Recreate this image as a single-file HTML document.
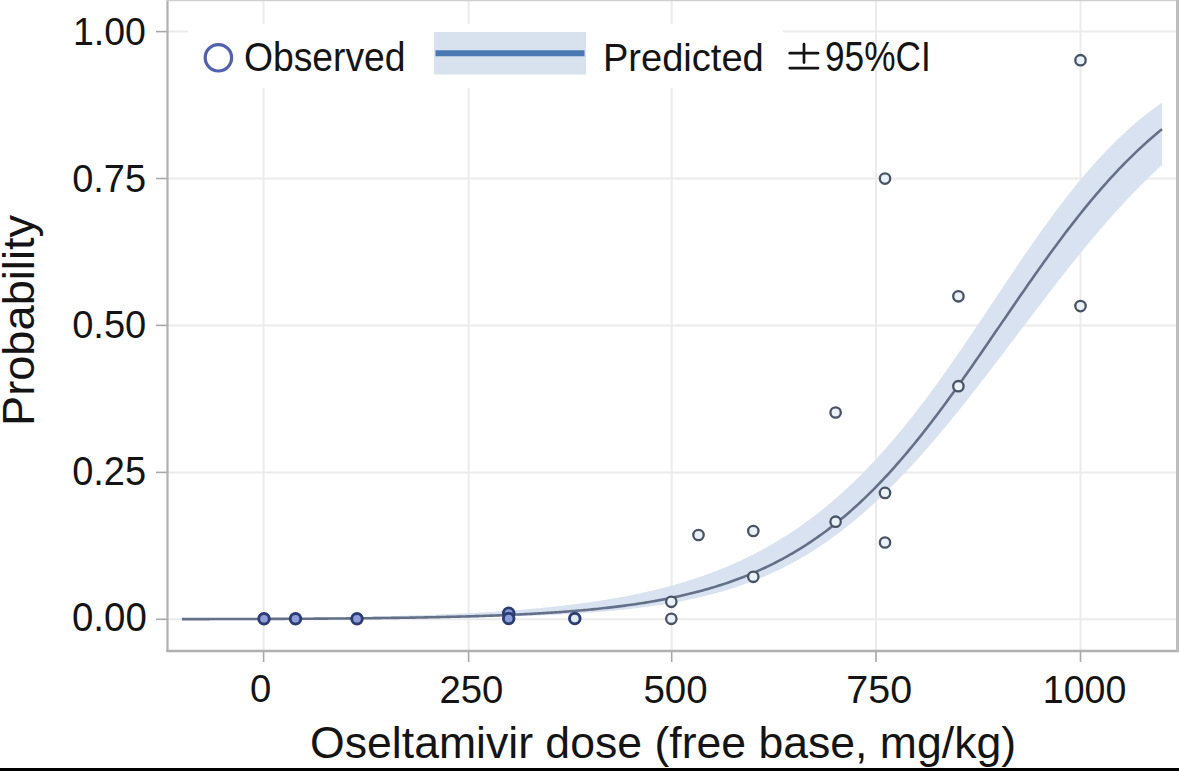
<!DOCTYPE html>
<html><head><meta charset="utf-8"><style>
html,body{margin:0;padding:0;background:#fff;width:1179px;height:771px;overflow:hidden}
svg{display:block}
text{font-family:"Liberation Sans",sans-serif;fill:#141414}
</style></head><body>
<svg width="1179" height="771" viewBox="0 0 1179 771">
<rect width="1179" height="771" fill="#fff"/>
<g stroke="#ebebeb" stroke-width="2">
<line x1="167" x2="1177" y1="31.6" y2="31.6"/>
<line x1="167" x2="1177" y1="178.5" y2="178.5"/>
<line x1="167" x2="1177" y1="325.4" y2="325.4"/>
<line x1="167" x2="1177" y1="472.4" y2="472.4"/>
<line x1="167" x2="1177" y1="619.3" y2="619.3"/>
<line y1="0" y2="651" x1="263.6" x2="263.6"/>
<line y1="0" y2="651" x1="468.6" x2="468.6"/>
<line y1="0" y2="651" x1="671.7" x2="671.7"/>
<line y1="0" y2="651" x1="876.0" x2="876.0"/>
<line y1="0" y2="651" x1="1080.5" x2="1080.5"/>
</g>
<rect x="188" y="24" width="595" height="64" fill="#fff"/>
<g stroke="#a8a8a8" stroke-width="1.6">
<line x1="156" x2="167" y1="31.6" y2="31.6"/>
<line x1="156" x2="167" y1="178.5" y2="178.5"/>
<line x1="156" x2="167" y1="325.4" y2="325.4"/>
<line x1="156" x2="167" y1="472.4" y2="472.4"/>
<line x1="156" x2="167" y1="619.3" y2="619.3"/>
<line y1="651" y2="662" x1="263.6" x2="263.6"/>
<line y1="651" y2="662" x1="468.6" x2="468.6"/>
<line y1="651" y2="662" x1="671.7" x2="671.7"/>
<line y1="651" y2="662" x1="876.0" x2="876.0"/>
<line y1="651" y2="662" x1="1080.5" x2="1080.5"/>
</g>
<path d="M181.92,618.77 L183.97,618.76 L186.01,618.75 L188.05,618.74 L190.09,618.73 L192.13,618.72 L194.18,618.71 L196.22,618.70 L198.26,618.69 L200.30,618.68 L202.34,618.67 L204.38,618.65 L206.43,618.64 L208.47,618.63 L210.51,618.62 L212.55,618.61 L214.59,618.60 L216.64,618.58 L218.68,618.57 L220.72,618.56 L222.76,618.54 L224.80,618.53 L226.85,618.52 L228.89,618.50 L230.93,618.49 L232.97,618.48 L235.01,618.46 L237.06,618.45 L239.10,618.43 L241.14,618.42 L243.18,618.40 L245.22,618.38 L247.26,618.37 L249.31,618.35 L251.35,618.34 L253.39,618.32 L255.43,618.30 L257.47,618.28 L259.52,618.27 L261.56,618.25 L263.60,618.23 L265.64,618.21 L267.68,618.19 L269.73,618.17 L271.77,618.15 L273.81,618.13 L275.85,618.11 L277.89,618.09 L279.94,618.07 L281.98,618.05 L284.02,618.03 L286.06,618.00 L288.10,617.98 L290.14,617.96 L292.19,617.93 L294.23,617.91 L296.27,617.89 L298.31,617.86 L300.35,617.83 L302.40,617.81 L304.44,617.78 L306.48,617.76 L308.52,617.73 L310.56,617.70 L312.61,617.67 L314.65,617.64 L316.69,617.62 L318.73,617.59 L320.77,617.56 L322.82,617.53 L324.86,617.49 L326.90,617.46 L328.94,617.43 L330.98,617.40 L333.02,617.36 L335.07,617.33 L337.11,617.30 L339.15,617.26 L341.19,617.22 L343.23,617.19 L345.28,617.15 L347.32,617.11 L349.36,617.07 L351.40,617.04 L353.44,617.00 L355.49,616.96 L357.53,616.91 L359.57,616.87 L361.61,616.83 L363.65,616.79 L365.70,616.74 L367.74,616.70 L369.78,616.65 L371.82,616.61 L373.86,616.56 L375.90,616.51 L377.95,616.46 L379.99,616.41 L382.03,616.36 L384.07,616.31 L386.11,616.26 L388.16,616.20 L390.20,616.15 L392.24,616.09 L394.28,616.04 L396.32,615.98 L398.37,615.92 L400.41,615.86 L402.45,615.80 L404.49,615.74 L406.53,615.68 L408.57,615.61 L410.62,615.55 L412.66,615.48 L414.70,615.42 L416.74,615.35 L418.78,615.28 L420.83,615.21 L422.87,615.14 L424.91,615.06 L426.95,614.99 L428.99,614.91 L431.04,614.84 L433.08,614.76 L435.12,614.68 L437.16,614.60 L439.20,614.52 L441.25,614.43 L443.29,614.35 L445.33,614.26 L447.37,614.17 L449.41,614.08 L451.45,613.99 L453.50,613.90 L455.54,613.80 L457.58,613.71 L459.62,613.61 L461.66,613.51 L463.71,613.41 L465.75,613.31 L467.79,613.20 L469.83,613.09 L471.87,612.99 L473.92,612.88 L475.96,612.76 L478.00,612.65 L480.04,612.53 L482.08,612.41 L484.13,612.29 L486.17,612.17 L488.21,612.05 L490.25,611.92 L492.29,611.79 L494.33,611.66 L496.38,611.53 L498.42,611.39 L500.46,611.25 L502.50,611.11 L504.54,610.97 L506.59,610.83 L508.63,610.68 L510.67,610.53 L512.71,610.37 L514.75,610.22 L516.80,610.06 L518.84,609.90 L520.88,609.74 L522.92,609.57 L524.96,609.40 L527.01,609.23 L529.05,609.05 L531.09,608.87 L533.13,608.69 L535.17,608.51 L537.21,608.32 L539.26,608.13 L541.30,607.94 L543.34,607.74 L545.38,607.54 L547.42,607.33 L549.47,607.13 L551.51,606.91 L553.55,606.70 L555.59,606.48 L557.63,606.26 L559.68,606.03 L561.72,605.80 L563.76,605.57 L565.80,605.33 L567.84,605.09 L569.88,604.84 L571.93,604.59 L573.97,604.34 L576.01,604.08 L578.05,603.82 L580.09,603.55 L582.14,603.28 L584.18,603.00 L586.22,602.72 L588.26,602.43 L590.30,602.14 L592.35,601.84 L594.39,601.54 L596.43,601.24 L598.47,600.93 L600.51,600.61 L602.56,600.29 L604.60,599.96 L606.64,599.63 L608.68,599.29 L610.72,598.95 L612.76,598.60 L614.81,598.24 L616.85,597.88 L618.89,597.51 L620.93,597.14 L622.97,596.76 L625.02,596.38 L627.06,595.98 L629.10,595.58 L631.14,595.18 L633.18,594.77 L635.23,594.35 L637.27,593.92 L639.31,593.49 L641.35,593.05 L643.39,592.60 L645.44,592.15 L647.48,591.69 L649.52,591.22 L651.56,590.74 L653.60,590.25 L655.64,589.76 L657.69,589.26 L659.73,588.75 L661.77,588.24 L663.81,587.71 L665.85,587.18 L667.90,586.63 L669.94,586.08 L671.98,585.52 L674.02,584.95 L676.06,584.37 L678.11,583.79 L680.15,583.19 L682.19,582.58 L684.23,581.97 L686.27,581.34 L688.32,580.70 L690.36,580.06 L692.40,579.40 L694.44,578.73 L696.48,578.06 L698.52,577.37 L700.57,576.67 L702.61,575.96 L704.65,575.24 L706.69,574.51 L708.73,573.77 L710.78,573.01 L712.82,572.24 L714.86,571.47 L716.90,570.68 L718.94,569.87 L720.99,569.06 L723.03,568.23 L725.07,567.39 L727.11,566.54 L729.15,565.68 L731.20,564.80 L733.24,563.91 L735.28,563.00 L737.32,562.08 L739.36,561.15 L741.40,560.20 L743.45,559.24 L745.49,558.27 L747.53,557.28 L749.57,556.28 L751.61,555.26 L753.66,554.22 L755.70,553.18 L757.74,552.11 L759.78,551.03 L761.82,549.94 L763.87,548.83 L765.91,547.70 L767.95,546.56 L769.99,545.40 L772.03,544.23 L774.08,543.04 L776.12,541.83 L778.16,540.60 L780.20,539.36 L782.24,538.10 L784.28,536.82 L786.33,535.53 L788.37,534.22 L790.41,532.89 L792.45,531.54 L794.49,530.17 L796.54,528.79 L798.58,527.39 L800.62,525.96 L802.66,524.52 L804.70,523.06 L806.75,521.58 L808.79,520.09 L810.83,518.57 L812.87,517.03 L814.91,515.47 L816.95,513.90 L819.00,512.30 L821.04,510.68 L823.08,509.04 L825.12,507.39 L827.16,505.71 L829.21,504.01 L831.25,502.29 L833.29,500.55 L835.33,498.78 L837.37,497.00 L839.42,495.20 L841.46,493.37 L843.50,491.52 L845.54,489.65 L847.58,487.76 L849.63,485.85 L851.67,483.92 L853.71,481.96 L855.75,479.98 L857.79,477.98 L859.83,475.96 L861.88,473.92 L863.92,471.85 L865.96,469.76 L868.00,467.65 L870.04,465.52 L872.09,463.37 L874.13,461.19 L876.17,458.99 L878.21,456.77 L880.25,454.53 L882.30,452.26 L884.34,449.97 L886.38,447.66 L888.42,445.33 L890.46,442.98 L892.51,440.60 L894.55,438.20 L896.59,435.78 L898.63,433.34 L900.67,430.88 L902.71,428.40 L904.76,425.89 L906.80,423.37 L908.84,420.82 L910.88,418.26 L912.92,415.67 L914.97,413.06 L917.01,410.44 L919.05,407.79 L921.09,405.12 L923.13,402.44 L925.18,399.73 L927.22,397.01 L929.26,394.27 L931.30,391.51 L933.34,388.73 L935.39,385.94 L937.43,383.13 L939.47,380.30 L941.51,377.46 L943.55,374.60 L945.59,371.73 L947.64,368.84 L949.68,365.94 L951.72,363.02 L953.76,360.09 L955.80,357.15 L957.85,354.19 L959.89,351.23 L961.93,348.25 L963.97,345.26 L966.01,342.27 L968.06,339.26 L970.10,336.24 L972.14,333.22 L974.18,330.19 L976.22,327.15 L978.27,324.11 L980.31,321.06 L982.35,318.01 L984.39,314.95 L986.43,311.89 L988.47,308.83 L990.52,305.77 L992.56,302.70 L994.60,299.64 L996.64,296.57 L998.68,293.51 L1000.73,290.44 L1002.77,287.38 L1004.81,284.33 L1006.85,281.28 L1008.89,278.23 L1010.94,275.19 L1012.98,272.15 L1015.02,269.12 L1017.06,266.10 L1019.10,263.09 L1021.14,260.09 L1023.19,257.10 L1025.23,254.11 L1027.27,251.14 L1029.31,248.18 L1031.35,245.24 L1033.40,242.31 L1035.44,239.39 L1037.48,236.49 L1039.52,233.60 L1041.56,230.73 L1043.61,227.87 L1045.65,225.03 L1047.69,222.21 L1049.73,219.41 L1051.77,216.62 L1053.82,213.86 L1055.86,211.12 L1057.90,208.39 L1059.94,205.69 L1061.98,203.01 L1064.02,200.35 L1066.07,197.71 L1068.11,195.10 L1070.15,192.50 L1072.19,189.94 L1074.23,187.39 L1076.28,184.87 L1078.32,182.37 L1080.36,179.90 L1082.40,177.45 L1084.44,175.03 L1086.49,172.64 L1088.53,170.27 L1090.57,167.92 L1092.61,165.60 L1094.65,163.31 L1096.70,161.04 L1098.74,158.80 L1100.78,156.59 L1102.82,154.40 L1104.86,152.24 L1106.90,150.11 L1108.95,148.01 L1110.99,145.93 L1113.03,143.88 L1115.07,141.85 L1117.11,139.85 L1119.16,137.88 L1121.20,135.94 L1123.24,134.02 L1125.28,132.13 L1127.32,130.27 L1129.37,128.43 L1131.41,126.62 L1133.45,124.84 L1135.49,123.08 L1137.53,121.35 L1139.58,119.65 L1141.62,117.97 L1143.66,116.32 L1145.70,114.69 L1147.74,113.09 L1149.78,111.51 L1151.83,109.96 L1153.87,108.43 L1155.91,106.93 L1157.95,105.46 L1159.99,104.00 L1162.04,102.57 L1162.04,165.04 L1159.99,166.91 L1157.95,168.80 L1155.91,170.70 L1153.87,172.63 L1151.83,174.57 L1149.78,176.53 L1147.74,178.51 L1145.70,180.51 L1143.66,182.52 L1141.62,184.56 L1139.58,186.61 L1137.53,188.68 L1135.49,190.77 L1133.45,192.87 L1131.41,195.00 L1129.37,197.14 L1127.32,199.29 L1125.28,201.47 L1123.24,203.66 L1121.20,205.87 L1119.16,208.10 L1117.11,210.34 L1115.07,212.60 L1113.03,214.87 L1110.99,217.16 L1108.95,219.47 L1106.90,221.79 L1104.86,224.13 L1102.82,226.48 L1100.78,228.85 L1098.74,231.23 L1096.70,233.63 L1094.65,236.04 L1092.61,238.47 L1090.57,240.91 L1088.53,243.36 L1086.49,245.82 L1084.44,248.30 L1082.40,250.79 L1080.36,253.29 L1078.32,255.81 L1076.28,258.34 L1074.23,260.87 L1072.19,263.42 L1070.15,265.98 L1068.11,268.55 L1066.07,271.13 L1064.02,273.72 L1061.98,276.32 L1059.94,278.92 L1057.90,281.54 L1055.86,284.16 L1053.82,286.79 L1051.77,289.43 L1049.73,292.08 L1047.69,294.73 L1045.65,297.39 L1043.61,300.05 L1041.56,302.72 L1039.52,305.39 L1037.48,308.07 L1035.44,310.75 L1033.40,313.44 L1031.35,316.13 L1029.31,318.82 L1027.27,321.52 L1025.23,324.21 L1023.19,326.91 L1021.14,329.61 L1019.10,332.31 L1017.06,335.01 L1015.02,337.71 L1012.98,340.41 L1010.94,343.11 L1008.89,345.81 L1006.85,348.51 L1004.81,351.20 L1002.77,353.89 L1000.73,356.58 L998.68,359.27 L996.64,361.95 L994.60,364.63 L992.56,367.30 L990.52,369.97 L988.47,372.63 L986.43,375.29 L984.39,377.94 L982.35,380.58 L980.31,383.22 L978.27,385.85 L976.22,388.47 L974.18,391.08 L972.14,393.69 L970.10,396.28 L968.06,398.87 L966.01,401.45 L963.97,404.02 L961.93,406.58 L959.89,409.12 L957.85,411.66 L955.80,414.19 L953.76,416.70 L951.72,419.20 L949.68,421.70 L947.64,424.17 L945.59,426.64 L943.55,429.09 L941.51,431.53 L939.47,433.96 L937.43,436.37 L935.39,438.77 L933.34,441.16 L931.30,443.53 L929.26,445.89 L927.22,448.23 L925.18,450.55 L923.13,452.86 L921.09,455.16 L919.05,457.44 L917.01,459.70 L914.97,461.95 L912.92,464.18 L910.88,466.40 L908.84,468.60 L906.80,470.78 L904.76,472.94 L902.71,475.09 L900.67,477.22 L898.63,479.33 L896.59,481.43 L894.55,483.51 L892.51,485.56 L890.46,487.61 L888.42,489.63 L886.38,491.63 L884.34,493.62 L882.30,495.59 L880.25,497.54 L878.21,499.47 L876.17,501.38 L874.13,503.27 L872.09,505.14 L870.04,507.00 L868.00,508.83 L865.96,510.65 L863.92,512.44 L861.88,514.22 L859.83,515.97 L857.79,517.71 L855.75,519.43 L853.71,521.13 L851.67,522.80 L849.63,524.46 L847.58,526.10 L845.54,527.72 L843.50,529.31 L841.46,530.89 L839.42,532.45 L837.37,533.99 L835.33,535.51 L833.29,537.01 L831.25,538.48 L829.21,539.94 L827.16,541.38 L825.12,542.80 L823.08,544.20 L821.04,545.58 L819.00,546.94 L816.95,548.28 L814.91,549.60 L812.87,550.90 L810.83,552.18 L808.79,553.45 L806.75,554.69 L804.70,555.92 L802.66,557.12 L800.62,558.31 L798.58,559.48 L796.54,560.63 L794.49,561.76 L792.45,562.88 L790.41,563.97 L788.37,565.05 L786.33,566.11 L784.28,567.16 L782.24,568.18 L780.20,569.19 L778.16,570.18 L776.12,571.15 L774.08,572.11 L772.03,573.05 L769.99,573.98 L767.95,574.89 L765.91,575.78 L763.87,576.66 L761.82,577.52 L759.78,578.36 L757.74,579.19 L755.70,580.01 L753.66,580.81 L751.61,581.60 L749.57,582.37 L747.53,583.13 L745.49,583.87 L743.45,584.60 L741.40,585.31 L739.36,586.02 L737.32,586.71 L735.28,587.38 L733.24,588.05 L731.20,588.70 L729.15,589.33 L727.11,589.96 L725.07,590.57 L723.03,591.18 L720.99,591.77 L718.94,592.35 L716.90,592.91 L714.86,593.47 L712.82,594.01 L710.78,594.55 L708.73,595.07 L706.69,595.59 L704.65,596.09 L702.61,596.58 L700.57,597.07 L698.52,597.54 L696.48,598.00 L694.44,598.46 L692.40,598.90 L690.36,599.34 L688.32,599.77 L686.27,600.19 L684.23,600.60 L682.19,601.00 L680.15,601.39 L678.11,601.78 L676.06,602.16 L674.02,602.53 L671.98,602.89 L669.94,603.24 L667.90,603.59 L665.85,603.93 L663.81,604.26 L661.77,604.59 L659.73,604.91 L657.69,605.22 L655.64,605.53 L653.60,605.83 L651.56,606.12 L649.52,606.41 L647.48,606.69 L645.44,606.96 L643.39,607.23 L641.35,607.50 L639.31,607.76 L637.27,608.01 L635.23,608.26 L633.18,608.50 L631.14,608.73 L629.10,608.97 L627.06,609.19 L625.02,609.41 L622.97,609.63 L620.93,609.84 L618.89,610.05 L616.85,610.25 L614.81,610.45 L612.76,610.65 L610.72,610.84 L608.68,611.03 L606.64,611.21 L604.60,611.39 L602.56,611.56 L600.51,611.73 L598.47,611.90 L596.43,612.06 L594.39,612.22 L592.35,612.38 L590.30,612.53 L588.26,612.68 L586.22,612.83 L584.18,612.97 L582.14,613.11 L580.09,613.25 L578.05,613.38 L576.01,613.51 L573.97,613.64 L571.93,613.77 L569.88,613.89 L567.84,614.01 L565.80,614.13 L563.76,614.24 L561.72,614.36 L559.68,614.47 L557.63,614.57 L555.59,614.68 L553.55,614.78 L551.51,614.88 L549.47,614.98 L547.42,615.08 L545.38,615.17 L543.34,615.26 L541.30,615.35 L539.26,615.44 L537.21,615.53 L535.17,615.61 L533.13,615.69 L531.09,615.77 L529.05,615.85 L527.01,615.93 L524.96,616.00 L522.92,616.08 L520.88,616.15 L518.84,616.22 L516.80,616.29 L514.75,616.36 L512.71,616.42 L510.67,616.49 L508.63,616.55 L506.59,616.61 L504.54,616.67 L502.50,616.73 L500.46,616.79 L498.42,616.84 L496.38,616.90 L494.33,616.95 L492.29,617.00 L490.25,617.06 L488.21,617.11 L486.17,617.16 L484.13,617.20 L482.08,617.25 L480.04,617.30 L478.00,617.34 L475.96,617.38 L473.92,617.43 L471.87,617.47 L469.83,617.51 L467.79,617.55 L465.75,617.59 L463.71,617.63 L461.66,617.67 L459.62,617.70 L457.58,617.74 L455.54,617.77 L453.50,617.81 L451.45,617.84 L449.41,617.87 L447.37,617.91 L445.33,617.94 L443.29,617.97 L441.25,618.00 L439.20,618.03 L437.16,618.06 L435.12,618.08 L433.08,618.11 L431.04,618.14 L428.99,618.16 L426.95,618.19 L424.91,618.21 L422.87,618.24 L420.83,618.26 L418.78,618.29 L416.74,618.31 L414.70,618.33 L412.66,618.35 L410.62,618.37 L408.57,618.39 L406.53,618.41 L404.49,618.43 L402.45,618.45 L400.41,618.47 L398.37,618.49 L396.32,618.51 L394.28,618.53 L392.24,618.54 L390.20,618.56 L388.16,618.58 L386.11,618.59 L384.07,618.61 L382.03,618.63 L379.99,618.64 L377.95,618.66 L375.90,618.67 L373.86,618.68 L371.82,618.70 L369.78,618.71 L367.74,618.73 L365.70,618.74 L363.65,618.75 L361.61,618.76 L359.57,618.78 L357.53,618.79 L355.49,618.80 L353.44,618.81 L351.40,618.82 L349.36,618.83 L347.32,618.84 L345.28,618.85 L343.23,618.86 L341.19,618.87 L339.15,618.88 L337.11,618.89 L335.07,618.90 L333.02,618.91 L330.98,618.92 L328.94,618.93 L326.90,618.94 L324.86,618.94 L322.82,618.95 L320.77,618.96 L318.73,618.97 L316.69,618.97 L314.65,618.98 L312.61,618.99 L310.56,619.00 L308.52,619.00 L306.48,619.01 L304.44,619.02 L302.40,619.02 L300.35,619.03 L298.31,619.03 L296.27,619.04 L294.23,619.05 L292.19,619.05 L290.14,619.06 L288.10,619.06 L286.06,619.07 L284.02,619.07 L281.98,619.08 L279.94,619.08 L277.89,619.09 L275.85,619.09 L273.81,619.10 L271.77,619.10 L269.73,619.11 L267.68,619.11 L265.64,619.12 L263.60,619.12 L261.56,619.12 L259.52,619.13 L257.47,619.13 L255.43,619.14 L253.39,619.14 L251.35,619.14 L249.31,619.15 L247.26,619.15 L245.22,619.15 L243.18,619.16 L241.14,619.16 L239.10,619.16 L237.06,619.17 L235.01,619.17 L232.97,619.17 L230.93,619.18 L228.89,619.18 L226.85,619.18 L224.80,619.18 L222.76,619.19 L220.72,619.19 L218.68,619.19 L216.64,619.19 L214.59,619.20 L212.55,619.20 L210.51,619.20 L208.47,619.20 L206.43,619.20 L204.38,619.21 L202.34,619.21 L200.30,619.21 L198.26,619.21 L196.22,619.22 L194.18,619.22 L192.13,619.22 L190.09,619.22 L188.05,619.22 L186.01,619.22 L183.97,619.23 L181.92,619.23 Z" fill="#d9e2f0"/>
<path d="M181.92,619.13 L183.97,619.13 L186.01,619.12 L188.05,619.12 L190.09,619.12 L192.13,619.11 L194.18,619.11 L196.22,619.10 L198.26,619.10 L200.30,619.10 L202.34,619.09 L204.38,619.09 L206.43,619.08 L208.47,619.08 L210.51,619.07 L212.55,619.07 L214.59,619.07 L216.64,619.06 L218.68,619.06 L220.72,619.05 L222.76,619.05 L224.80,619.04 L226.85,619.03 L228.89,619.03 L230.93,619.02 L232.97,619.02 L235.01,619.01 L237.06,619.01 L239.10,619.00 L241.14,618.99 L243.18,618.99 L245.22,618.98 L247.26,618.97 L249.31,618.97 L251.35,618.96 L253.39,618.95 L255.43,618.95 L257.47,618.94 L259.52,618.93 L261.56,618.93 L263.60,618.92 L265.64,618.91 L267.68,618.90 L269.73,618.89 L271.77,618.88 L273.81,618.88 L275.85,618.87 L277.89,618.86 L279.94,618.85 L281.98,618.84 L284.02,618.83 L286.06,618.82 L288.10,618.81 L290.14,618.80 L292.19,618.79 L294.23,618.78 L296.27,618.77 L298.31,618.76 L300.35,618.75 L302.40,618.74 L304.44,618.73 L306.48,618.71 L308.52,618.70 L310.56,618.69 L312.61,618.68 L314.65,618.66 L316.69,618.65 L318.73,618.64 L320.77,618.62 L322.82,618.61 L324.86,618.60 L326.90,618.58 L328.94,618.57 L330.98,618.55 L333.02,618.54 L335.07,618.52 L337.11,618.50 L339.15,618.49 L341.19,618.47 L343.23,618.45 L345.28,618.44 L347.32,618.42 L349.36,618.40 L351.40,618.38 L353.44,618.36 L355.49,618.35 L357.53,618.33 L359.57,618.31 L361.61,618.29 L363.65,618.26 L365.70,618.24 L367.74,618.22 L369.78,618.20 L371.82,618.18 L373.86,618.15 L375.90,618.13 L377.95,618.11 L379.99,618.08 L382.03,618.06 L384.07,618.03 L386.11,618.01 L388.16,617.98 L390.20,617.95 L392.24,617.92 L394.28,617.90 L396.32,617.87 L398.37,617.84 L400.41,617.81 L402.45,617.78 L404.49,617.75 L406.53,617.71 L408.57,617.68 L410.62,617.65 L412.66,617.61 L414.70,617.58 L416.74,617.54 L418.78,617.51 L420.83,617.47 L422.87,617.43 L424.91,617.40 L426.95,617.36 L428.99,617.32 L431.04,617.28 L433.08,617.24 L435.12,617.19 L437.16,617.15 L439.20,617.11 L441.25,617.06 L443.29,617.02 L445.33,616.97 L447.37,616.92 L449.41,616.87 L451.45,616.82 L453.50,616.77 L455.54,616.72 L457.58,616.67 L459.62,616.61 L461.66,616.56 L463.71,616.50 L465.75,616.45 L467.79,616.39 L469.83,616.33 L471.87,616.27 L473.92,616.20 L475.96,616.14 L478.00,616.08 L480.04,616.01 L482.08,615.94 L484.13,615.88 L486.17,615.81 L488.21,615.73 L490.25,615.66 L492.29,615.59 L494.33,615.51 L496.38,615.43 L498.42,615.35 L500.46,615.27 L502.50,615.19 L504.54,615.11 L506.59,615.02 L508.63,614.94 L510.67,614.85 L512.71,614.76 L514.75,614.66 L516.80,614.57 L518.84,614.47 L520.88,614.37 L522.92,614.27 L524.96,614.17 L527.01,614.07 L529.05,613.96 L531.09,613.85 L533.13,613.74 L535.17,613.63 L537.21,613.51 L539.26,613.39 L541.30,613.27 L543.34,613.15 L545.38,613.03 L547.42,612.90 L549.47,612.77 L551.51,612.64 L553.55,612.50 L555.59,612.36 L557.63,612.22 L559.68,612.08 L561.72,611.93 L563.76,611.78 L565.80,611.63 L567.84,611.47 L569.88,611.31 L571.93,611.15 L573.97,610.99 L576.01,610.82 L578.05,610.65 L580.09,610.47 L582.14,610.29 L584.18,610.11 L586.22,609.93 L588.26,609.74 L590.30,609.54 L592.35,609.35 L594.39,609.15 L596.43,608.94 L598.47,608.73 L600.51,608.52 L602.56,608.30 L604.60,608.08 L606.64,607.85 L608.68,607.62 L610.72,607.39 L612.76,607.15 L614.81,606.90 L616.85,606.65 L618.89,606.40 L620.93,606.14 L622.97,605.88 L625.02,605.61 L627.06,605.33 L629.10,605.05 L631.14,604.77 L633.18,604.47 L635.23,604.18 L637.27,603.88 L639.31,603.57 L641.35,603.25 L643.39,602.93 L645.44,602.60 L647.48,602.27 L649.52,601.93 L651.56,601.59 L653.60,601.23 L655.64,600.87 L657.69,600.51 L659.73,600.13 L661.77,599.75 L663.81,599.36 L665.85,598.97 L667.90,598.57 L669.94,598.15 L671.98,597.74 L674.02,597.31 L676.06,596.87 L678.11,596.43 L680.15,595.98 L682.19,595.52 L684.23,595.05 L686.27,594.58 L688.32,594.09 L690.36,593.59 L692.40,593.09 L694.44,592.57 L696.48,592.05 L698.52,591.52 L700.57,590.97 L702.61,590.42 L704.65,589.86 L706.69,589.28 L708.73,588.70 L710.78,588.10 L712.82,587.50 L714.86,586.88 L716.90,586.25 L718.94,585.61 L720.99,584.96 L723.03,584.29 L725.07,583.62 L727.11,582.93 L729.15,582.23 L731.20,581.52 L733.24,580.79 L735.28,580.05 L737.32,579.30 L739.36,578.54 L741.40,577.76 L743.45,576.96 L745.49,576.16 L747.53,575.34 L749.57,574.50 L751.61,573.65 L753.66,572.79 L755.70,571.91 L757.74,571.02 L759.78,570.11 L761.82,569.18 L763.87,568.24 L765.91,567.29 L767.95,566.31 L769.99,565.33 L772.03,564.32 L774.08,563.30 L776.12,562.26 L778.16,561.20 L780.20,560.13 L782.24,559.04 L784.28,557.93 L786.33,556.80 L788.37,555.66 L790.41,554.49 L792.45,553.31 L794.49,552.11 L796.54,550.89 L798.58,549.65 L800.62,548.39 L802.66,547.11 L804.70,545.81 L806.75,544.50 L808.79,543.16 L810.83,541.80 L812.87,540.42 L814.91,539.02 L816.95,537.60 L819.00,536.16 L821.04,534.70 L823.08,533.21 L825.12,531.71 L827.16,530.18 L829.21,528.63 L831.25,527.06 L833.29,525.47 L835.33,523.85 L837.37,522.22 L839.42,520.56 L841.46,518.87 L843.50,517.17 L845.54,515.44 L847.58,513.69 L849.63,511.92 L851.67,510.12 L853.71,508.30 L855.75,506.45 L857.79,504.59 L859.83,502.70 L861.88,500.79 L863.92,498.85 L865.96,496.89 L868.00,494.91 L870.04,492.90 L872.09,490.87 L874.13,488.82 L876.17,486.74 L878.21,484.64 L880.25,482.52 L882.30,480.37 L884.34,478.20 L886.38,476.01 L888.42,473.79 L890.46,471.55 L892.51,469.29 L894.55,467.01 L896.59,464.70 L898.63,462.37 L900.67,460.02 L902.71,457.65 L904.76,455.25 L906.80,452.84 L908.84,450.40 L910.88,447.94 L912.92,445.46 L914.97,442.96 L917.01,440.44 L919.05,437.90 L921.09,435.34 L923.13,432.76 L925.18,430.16 L927.22,427.54 L929.26,424.90 L931.30,422.25 L933.34,419.57 L935.39,416.88 L937.43,414.17 L939.47,411.45 L941.51,408.71 L943.55,405.95 L945.59,403.18 L947.64,400.39 L949.68,397.59 L951.72,394.77 L953.76,391.95 L955.80,389.10 L957.85,386.25 L959.89,383.38 L961.93,380.50 L963.97,377.61 L966.01,374.71 L968.06,371.80 L970.10,368.89 L972.14,365.96 L974.18,363.02 L976.22,360.08 L978.27,357.13 L980.31,354.17 L982.35,351.21 L984.39,348.24 L986.43,345.27 L988.47,342.29 L990.52,339.31 L992.56,336.32 L994.60,333.34 L996.64,330.35 L998.68,327.36 L1000.73,324.37 L1002.77,321.39 L1004.81,318.40 L1006.85,315.41 L1008.89,312.43 L1010.94,309.45 L1012.98,306.47 L1015.02,303.49 L1017.06,300.52 L1019.10,297.56 L1021.14,294.60 L1023.19,291.65 L1025.23,288.70 L1027.27,285.76 L1029.31,282.83 L1031.35,279.91 L1033.40,277.00 L1035.44,274.10 L1037.48,271.20 L1039.52,268.32 L1041.56,265.45 L1043.61,262.59 L1045.65,259.75 L1047.69,256.92 L1049.73,254.10 L1051.77,251.29 L1053.82,248.50 L1055.86,245.72 L1057.90,242.96 L1059.94,240.22 L1061.98,237.49 L1064.02,234.78 L1066.07,232.08 L1068.11,229.40 L1070.15,226.74 L1072.19,224.10 L1074.23,221.47 L1076.28,218.87 L1078.32,216.28 L1080.36,213.72 L1082.40,211.17 L1084.44,208.64 L1086.49,206.14 L1088.53,203.65 L1090.57,201.19 L1092.61,198.74 L1094.65,196.32 L1096.70,193.92 L1098.74,191.54 L1100.78,189.18 L1102.82,186.85 L1104.86,184.54 L1106.90,182.24 L1108.95,179.98 L1110.99,177.73 L1113.03,175.51 L1115.07,173.31 L1117.11,171.14 L1119.16,168.98 L1121.20,166.85 L1123.24,164.75 L1125.28,162.66 L1127.32,160.60 L1129.37,158.57 L1131.41,156.55 L1133.45,154.56 L1135.49,152.60 L1137.53,150.65 L1139.58,148.73 L1141.62,146.84 L1143.66,144.97 L1145.70,143.12 L1147.74,141.29 L1149.78,139.49 L1151.83,137.71 L1153.87,135.95 L1155.91,134.21 L1157.95,132.50 L1159.99,130.81 L1162.04,129.15" fill="none" stroke="#637088" stroke-width="2.6" stroke-linejoin="round"/>
<g fill="#eaf1f8" stroke="#485466" stroke-width="2.3">
<circle cx="671.3" cy="601.8" r="5.2"/>
<circle cx="671.3" cy="618.8" r="5.2"/>
<circle cx="698.5" cy="535" r="5.2"/>
<circle cx="753.3" cy="531" r="5.2"/>
<circle cx="753.3" cy="576.8" r="5.2"/>
<circle cx="835.6" cy="521.7" r="5.2"/>
<circle cx="835.6" cy="412.5" r="5.2"/>
<circle cx="885" cy="178.6" r="5.2"/>
<circle cx="885" cy="492.9" r="5.2"/>
<circle cx="885" cy="542.5" r="5.2"/>
<circle cx="958.4" cy="296.3" r="5.2"/>
<circle cx="958.4" cy="386.2" r="5.2"/>
<circle cx="1080.5" cy="60.2" r="5.2"/>
<circle cx="1080.5" cy="306.1" r="5.2"/>
</g>
<g stroke="#2b3d72" stroke-width="2.9">
<circle cx="264" cy="618.8" r="5.3" fill="#8e9cda"/>
<circle cx="295.5" cy="618.8" r="5.3" fill="#8e9cda"/>
<circle cx="357" cy="618.8" r="5.3" fill="#8e9cda"/>
<circle cx="508.7" cy="613.2" r="5.3" fill="#8e9cda"/>
<circle cx="508.7" cy="618.6" r="5.3" fill="#8e9cda"/>
<circle cx="574.8" cy="618.6" r="5.3" fill="#dfe8f5"/>
</g>
<g stroke="#b0b0b0" fill="none">
<line x1="167.5" y1="0" x2="167.5" y2="652" stroke-width="2.2"/>
<line x1="166.5" y1="651" x2="1179" y2="651" stroke-width="2.4"/>
<line x1="167" y1="0.5" x2="1179" y2="0.5" stroke="#cfcfcf" stroke-width="1.4"/>
<line x1="1177.5" y1="0" x2="1177.5" y2="651" stroke="#bdbdbd" stroke-width="3"/>
</g>
<text x="72.9" y="45.2" font-size="39.04" textLength="72.9" lengthAdjust="spacingAndGlyphs">1.00</text>
<text x="72.2" y="192.1" font-size="39.04" textLength="73.9" lengthAdjust="spacingAndGlyphs">0.75</text>
<text x="72.2" y="337.9" font-size="38.45" textLength="74.1" lengthAdjust="spacingAndGlyphs">0.50</text>
<text x="72.2" y="484.6" font-size="39.90" textLength="73.9" lengthAdjust="spacingAndGlyphs">0.25</text>
<text x="72.0" y="631.2" font-size="39.90" textLength="74.8" lengthAdjust="spacingAndGlyphs">0.00</text>
<text x="250.1" y="702.2" font-size="39.31" textLength="21.3" lengthAdjust="spacingAndGlyphs">0</text>
<text x="439.4" y="702.9" font-size="38.75" textLength="63.9" lengthAdjust="spacingAndGlyphs">250</text>
<text x="643.4" y="702.9" font-size="38.75" textLength="64.2" lengthAdjust="spacingAndGlyphs">500</text>
<text x="846.3" y="702.9" font-size="38.75" textLength="65.8" lengthAdjust="spacingAndGlyphs">750</text>
<text x="1042.8" y="702.9" font-size="39.61" textLength="83.5" lengthAdjust="spacingAndGlyphs">1000</text>
<text x="243.9" y="71.0" font-size="40.68" textLength="161.7" lengthAdjust="spacingAndGlyphs">Observed</text>
<text x="602.9" y="70.6" font-size="39.57" textLength="160.9" lengthAdjust="spacingAndGlyphs">Predicted</text>
<text x="825.0" y="71.1" font-size="41.63" textLength="105.7" lengthAdjust="spacingAndGlyphs">95%CI</text>
<text x="310.1" y="758.3" font-size="45.15" textLength="706.0" lengthAdjust="spacingAndGlyphs">Oseltamivir dose (free base, mg/kg)</text>
<text transform="translate(34.2,426.0) rotate(-90)" font-size="44.21" textLength="211.1" lengthAdjust="spacingAndGlyphs">Probability</text>
<!-- legend -->
<circle cx="218.4" cy="57.8" r="13.2" fill="none" stroke="#5161ae" stroke-width="3.2"/>
<rect x="434" y="32" width="152" height="42.5" fill="#d8e1ee"/>
<line x1="435.5" x2="584.5" y1="53.2" y2="53.2" stroke="#4a78b2" stroke-width="6"/>
<g stroke="#141414" stroke-width="2.7" stroke-linecap="round">
<line x1="789.8" x2="818" y1="53.2" y2="53.2"/>
<line x1="804" x2="804" y1="44.2" y2="62.6"/>
<line x1="789.8" x2="818" y1="68.1" y2="68.1"/>
</g>
<rect x="0" y="768" width="1179" height="3" fill="#000"/>
</svg>
</body></html>
